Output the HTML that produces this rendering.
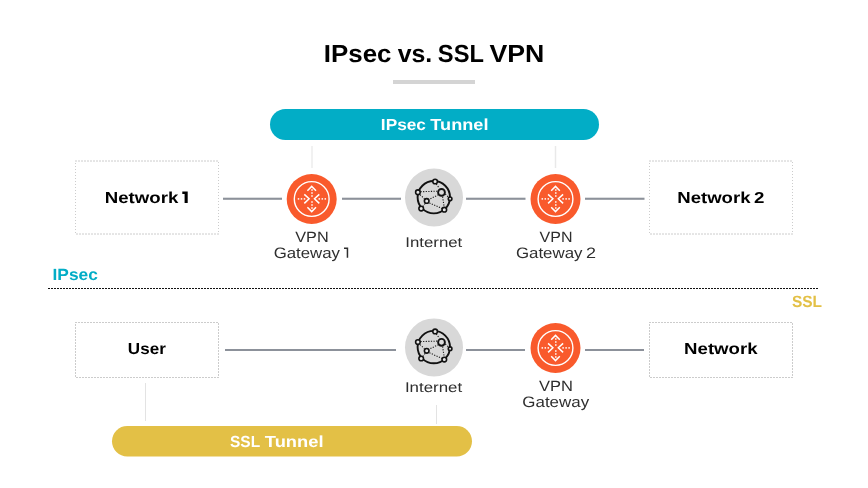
<!DOCTYPE html>
<html><head><meta charset="utf-8">
<style>
html,body{margin:0;padding:0;background:#fff;width:868px;height:488px;overflow:hidden}
svg{display:block;will-change:transform}
text{font-family:"Liberation Sans",sans-serif;text-rendering:geometricPrecision}
</style></head>
<body>
<svg width="868" height="488" viewBox="0 0 868 488">
<defs>
  <g id="router">
    <circle cx="0" cy="0" r="25" fill="#F95A2C"/>
    <circle cx="0" cy="0" r="17.4" fill="none" stroke="#fff" stroke-width="1.4"/>
    <g stroke="#fff" stroke-width="1.5" fill="none" stroke-linecap="butt" stroke-linejoin="miter">
      <polyline points="-4.3,-8.3 0,-12.6 4.3,-8.3"/>
      <polyline points="-4.3,8.3 0,12.6 4.3,8.3"/>
      <polyline points="-7.4,-4.6 -2.6,-0.2 -7.4,4.4"/>
      <polyline points="7.6,-4.6 2.8,-0.2 7.6,4.4"/>
    </g>
    <g fill="#fff"><rect x="-13.95" y="-0.85" width="1.5" height="1.5"/><rect x="-10.95" y="-0.85" width="1.5" height="1.5"/><rect x="-7.95" y="-0.85" width="1.5" height="1.5"/><rect x="6.85" y="-0.85" width="1.5" height="1.5"/><rect x="9.85" y="-0.85" width="1.5" height="1.5"/><rect x="12.85" y="-0.85" width="1.5" height="1.5"/><rect x="-0.45" y="-9.75" width="1.5" height="1.5"/><rect x="-0.45" y="-6.75" width="1.5" height="1.5"/><rect x="-0.45" y="-3.75" width="1.5" height="1.5"/><rect x="-0.45" y="2.25" width="1.5" height="1.5"/><rect x="-0.45" y="5.25" width="1.5" height="1.5"/><rect x="-0.45" y="8.25" width="1.5" height="1.5"/></g>
  </g>
  <g id="globe">
    <circle cx="0" cy="0" r="29" fill="#D8D8D8"/>
    <circle cx="-0.2" cy="-0.3" r="16.2" fill="none" stroke="#111" stroke-width="1.9"/>
    <g stroke="#1a1a1a" stroke-width="1.1" fill="none" stroke-dasharray="1.2 1.4">
      <line x1="-13.5" y1="-5.8" x2="3.5" y2="-6.3"/>
      <line x1="2.3" y1="-13.5" x2="5.3" y2="-9.2"/>
      <line x1="4.5" y1="-2.7" x2="-4.8" y2="1.8"/>
      <line x1="-14" y1="-2.8" x2="-9.5" y2="1.3"/>
      <line x1="-4.6" y1="5.4" x2="8" y2="11"/>
      <line x1="8.6" y1="-0.8" x2="10.1" y2="9.2"/>
      <line x1="11.3" y1="-3.4" x2="14.5" y2="-0.3"/>
      <line x1="-8.9" y1="6" x2="-11" y2="8.8"/>
    </g>
    <g stroke="#111" stroke-width="1.6">
      <circle cx="1.1" cy="-16" r="2.3" fill="#E6E6E6"/>
      <circle cx="-16.1" cy="-5.3" r="2.3" fill="#E6E6E6"/>
      <circle cx="7.5" cy="-5.1" r="3.4" fill="#DDDDDD" stroke-width="1.9"/>
      <circle cx="-7.3" cy="3.4" r="2.3" fill="#E6E6E6"/>
      <circle cx="16.1" cy="1.3" r="1.8" fill="#E6E6E6"/>
      <circle cx="-12.8" cy="11.1" r="2.3" fill="#E6E6E6"/>
      <circle cx="10.3" cy="12.2" r="2.3" fill="#E6E6E6"/>
    </g>
  </g>
</defs>

<rect x="393" y="80" width="82" height="4" fill="#D4D4D4"/>

<rect x="270" y="109" width="329" height="31" rx="15.5" fill="#02ADC6"/>
<rect x="311" y="146" width="2" height="22" fill="#F1F1F1"/>
<rect x="554.75" y="146" width="1.5" height="22" fill="#E9E9E9"/>

<line x1="75" y1="161" x2="219" y2="161" stroke="#CCCCCC" stroke-width="1" stroke-dasharray="2 1"/><line x1="76" y1="234" x2="219" y2="234" stroke="#CCCCCC" stroke-width="1" stroke-dasharray="2 1"/><line x1="75.5" y1="163" x2="75.5" y2="234" stroke="#CCCCCC" stroke-width="1" stroke-dasharray="1 2"/><line x1="218.5" y1="162" x2="218.5" y2="234" stroke="#CCCCCC" stroke-width="1" stroke-dasharray="1 2"/>
<rect x="223" y="197.7" width="59" height="2.1" fill="#8C919A"/>
<use href="#router" x="311.7" y="199"/>
<rect x="342" y="197.7" width="59" height="2.1" fill="#8C919A"/>
<use href="#globe" x="434" y="197.5"/>
<rect x="466" y="197.7" width="59.5" height="2.1" fill="#8C919A"/>
<use href="#router" x="555.5" y="199"/>
<rect x="585" y="197.7" width="59.5" height="2.1" fill="#8C919A"/>
<line x1="649" y1="161" x2="793" y2="161" stroke="#CCCCCC" stroke-width="1" stroke-dasharray="2 1"/><line x1="650" y1="234" x2="793" y2="234" stroke="#CCCCCC" stroke-width="1" stroke-dasharray="2 1"/><line x1="649.5" y1="163" x2="649.5" y2="234" stroke="#CCCCCC" stroke-width="1" stroke-dasharray="1 2"/><line x1="792.5" y1="162" x2="792.5" y2="234" stroke="#CCCCCC" stroke-width="1" stroke-dasharray="1 2"/>

<line x1="48" y1="288.5" x2="818" y2="288.5" stroke="#111" stroke-width="1" stroke-dasharray="2 1"/>

<line x1="75" y1="322.5" x2="219" y2="322.5" stroke="#CCCCCC" stroke-width="1" stroke-dasharray="2 1"/><line x1="76" y1="377.5" x2="219" y2="377.5" stroke="#CCCCCC" stroke-width="1" stroke-dasharray="2 1"/><line x1="75.5" y1="324" x2="75.5" y2="377.5" stroke="#CCCCCC" stroke-width="1" stroke-dasharray="2 1"/><line x1="218.5" y1="323" x2="218.5" y2="377.5" stroke="#CCCCCC" stroke-width="1" stroke-dasharray="2 1"/>
<rect x="225" y="349" width="171" height="2" fill="#8C919A"/>
<use href="#globe" x="434" y="347.4"/>
<rect x="466" y="349" width="59" height="2" fill="#8C919A"/>
<use href="#router" x="555.5" y="348"/>
<rect x="585" y="349" width="59" height="2" fill="#8C919A"/>
<line x1="649" y1="322.5" x2="793" y2="322.5" stroke="#CCCCCC" stroke-width="1" stroke-dasharray="2 1"/><line x1="650" y1="377.5" x2="793" y2="377.5" stroke="#CCCCCC" stroke-width="1" stroke-dasharray="2 1"/><line x1="649.5" y1="324" x2="649.5" y2="377.5" stroke="#CCCCCC" stroke-width="1" stroke-dasharray="2 1"/><line x1="792.5" y1="323" x2="792.5" y2="377.5" stroke="#CCCCCC" stroke-width="1" stroke-dasharray="2 1"/>

<rect x="145" y="383" width="1" height="38" fill="#E3E3E3"/>
<rect x="436" y="405" width="1" height="19" fill="#E3E3E3"/>

<rect x="112" y="426" width="360" height="30.5" rx="15.25" fill="#E3C046"/>
<text x="323.83" y="62.00" font-size="24.60" font-weight="bold" fill="#000" textLength="67.68" lengthAdjust="spacingAndGlyphs">IPsec</text>
<text x="397.66" y="62.00" font-size="24.60" font-weight="bold" fill="#000" textLength="34.65" lengthAdjust="spacingAndGlyphs">vs.</text>
<text x="437.86" y="62.00" font-size="24.60" font-weight="bold" fill="#000" textLength="46.03" lengthAdjust="spacingAndGlyphs">SSL</text>
<text x="489.51" y="62.00" font-size="24.60" font-weight="bold" fill="#000" textLength="54.87" lengthAdjust="spacingAndGlyphs">VPN</text>
<text x="380.89" y="130.00" font-size="16.00" font-weight="bold" fill="#fff" textLength="45.00" lengthAdjust="spacingAndGlyphs">IPsec</text>
<text x="430.36" y="130.00" font-size="16.00" font-weight="bold" fill="#fff" textLength="58.06" lengthAdjust="spacingAndGlyphs">Tunnel</text>
<text x="104.73" y="203.00" font-size="15.90" font-weight="bold" fill="#000" textLength="73.54" lengthAdjust="spacingAndGlyphs">Network</text>
<text x="677.25" y="203.00" font-size="15.90" font-weight="bold" fill="#000" textLength="73.22" lengthAdjust="spacingAndGlyphs">Network</text>
<text x="754.13" y="203.00" font-size="15.90" font-weight="bold" fill="#000" textLength="10.41" lengthAdjust="spacingAndGlyphs">2</text>
<text x="295.25" y="242.00" font-size="14.90" fill="#2e2e2e" textLength="33.43" lengthAdjust="spacingAndGlyphs">VPN</text>
<text x="273.68" y="258.00" font-size="15.10" fill="#2e2e2e" textLength="66.35" lengthAdjust="spacingAndGlyphs">Gateway</text>
<text x="405.25" y="247.00" font-size="14.10" fill="#2e2e2e" textLength="57.03" lengthAdjust="spacingAndGlyphs">Internet</text>
<text x="539.55" y="242.00" font-size="14.90" fill="#2e2e2e" textLength="32.92" lengthAdjust="spacingAndGlyphs">VPN</text>
<text x="515.96" y="258.00" font-size="15.10" fill="#2e2e2e" textLength="66.54" lengthAdjust="spacingAndGlyphs">Gateway</text>
<text x="585.91" y="258.00" font-size="15.10" fill="#2e2e2e" textLength="10.04" lengthAdjust="spacingAndGlyphs">2</text>
<text x="52.55" y="280.00" font-size="16.20" font-weight="bold" fill="#02ADC6" textLength="45.29" lengthAdjust="spacingAndGlyphs">IPsec</text>
<text x="791.97" y="307.00" font-size="16.20" font-weight="bold" fill="#E3C046" textLength="30.11" lengthAdjust="spacingAndGlyphs">SSL</text>
<text x="127.89" y="354.00" font-size="15.90" font-weight="bold" fill="#000" textLength="37.92" lengthAdjust="spacingAndGlyphs">User</text>
<text x="684.10" y="354.00" font-size="15.90" font-weight="bold" fill="#000" textLength="73.43" lengthAdjust="spacingAndGlyphs">Network</text>
<text x="404.92" y="392.00" font-size="14.10" fill="#2e2e2e" textLength="57.28" lengthAdjust="spacingAndGlyphs">Internet</text>
<text x="539.08" y="391.00" font-size="14.90" fill="#2e2e2e" textLength="33.94" lengthAdjust="spacingAndGlyphs">VPN</text>
<text x="522.33" y="407.00" font-size="15.10" fill="#2e2e2e" textLength="66.81" lengthAdjust="spacingAndGlyphs">Gateway</text>
<text x="230.05" y="447.00" font-size="16.00" font-weight="bold" fill="#fff" textLength="30.11" lengthAdjust="spacingAndGlyphs">SSL</text>
<text x="264.87" y="447.00" font-size="16.00" font-weight="bold" fill="#fff" textLength="58.66" lengthAdjust="spacingAndGlyphs">Tunnel</text>
<path d="M182.3 191.4 H187.7 V203 H184.6 V193.9 H182.3 Z" fill="#000"/>
<path d="M344 247.6 H348.2 V257.8 H346.7 V249.1 H344 Z" fill="#2e2e2e"/>
</svg>
</body></html>
